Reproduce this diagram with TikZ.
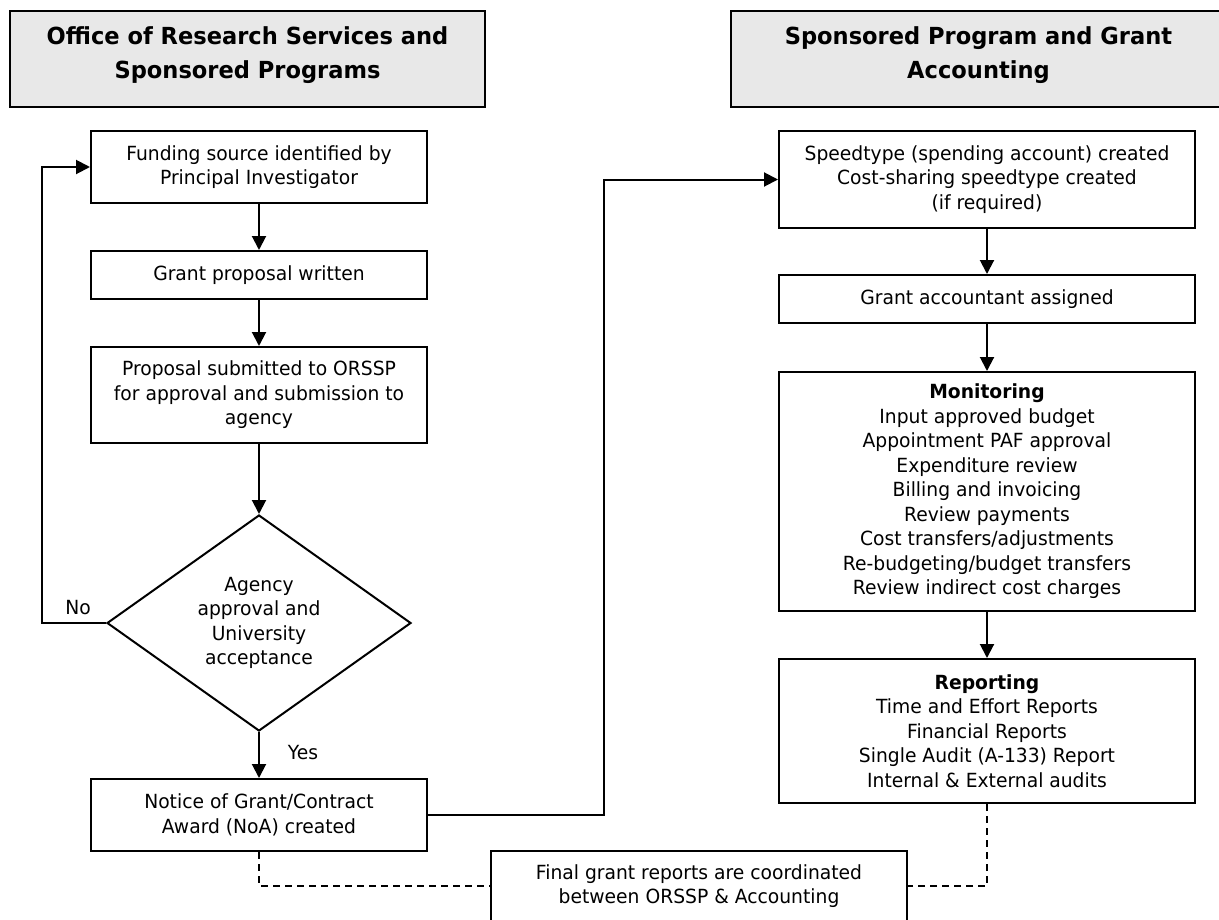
\documentclass[tikz,border=0pt]{standalone}
\usepackage{fontspec}
\setmainfont{DejaVu Sans}[FakeStretch=0.96]
\usetikzlibrary{arrows.meta,shapes.geometric}
\newcommand\myBody{\fontsize{19.5}{24.5}\selectfont}
\newcommand\myHead{\fontsize{23.5}{34}\selectfont\bfseries}
\definecolor{headgray}{HTML}{E8E8E8}
\begin{document}
\begin{tikzpicture}[x=1pt,y=-1pt,
  pbox/.style={draw, line width=2pt, align=center, inner sep=0pt, font=\myBody, fill=white},
  leftbox/.style={pbox, minimum width=336},
  rightbox/.style={pbox, minimum width=416},
  headbox/.style={draw, line width=2pt, fill=headgray, align=center, inner sep=0pt, font=\myHead},
  arr/.style={line width=2pt, -{Triangle[length=14pt,width=14pt]}},
  dsh/.style={line width=2pt, dash pattern=on 7pt off 5pt},
  lbl/.style={font=\myBody, inner sep=0pt}]
\useasboundingbox (0,0) rectangle (1219,919);
\clip (0,0) rectangle (1219,919);

% headers
\node[headbox, minimum width=475, minimum height=96] (h1) at (247.5,59)
  {Office of Research Services and\\Sponsored Programs\rule[-12pt]{0pt}{0pt}};
\node[headbox, minimum width=495, minimum height=96] (h2) at (978.5,59)
  {Sponsored Program and Grant\\Accounting\rule[-12pt]{0pt}{0pt}};

% left column
\node[leftbox, minimum height=72] (fund) at (259,167)
  {Funding source identified by\\Principal Investigator};
\node[leftbox, minimum height=48] (grant) at (259,275)
  {Grant proposal written};
\node[leftbox, minimum height=96] (prop) at (259,395)
  {Proposal submitted to ORSSP\\for approval and submission to\\agency};
\node[draw, line width=2pt, diamond, aspect=1.4, inner sep=0pt, align=center, font=\myBody,
      minimum width=304, minimum height=216] (dec) at (259,623)
  {Agency\\approval and\\University\\acceptance};
\node[leftbox, minimum height=72] (notice) at (259,815)
  {Notice of Grant/Contract\\Award (NoA) created};

% right column
\node[rightbox, minimum height=97] (speed) at (987,179.5)
  {Speedtype (spending account) created\\Cost-sharing speedtype created\\(if required)};
\node[rightbox, minimum height=48] (acct) at (987,299)
  {Grant accountant assigned};
\node[rightbox, minimum height=239] (mon) at (987,491.5)
  {\textbf{Monitoring}\\Input approved budget\\Appointment PAF approval\\Expenditure review\\Billing and invoicing\\Review payments\\Cost transfers/adjustments\\Re-budgeting/budget transfers\\Review indirect cost charges};
\node[rightbox, minimum height=144] (rep) at (987,731)
  {\textbf{Reporting}\\Time and Effort Reports\\Financial Reports\\Single Audit (A-133) Report\\Internal \& External audits};

% bottom box
\node[pbox, minimum width=416, minimum height=70] (final) at (699,886)
  {Final grant reports are coordinated\\between ORSSP \& Accounting};

% labels
\node[lbl] (no) at (78,608) {No};
\node[lbl] (yes) at (303,753) {Yes};

% connectors
\draw[arr] (fund) -- (grant);
\draw[arr] (grant) -- (prop);
\draw[arr] (prop) -- (dec);
\draw[arr] (dec) -- (notice);
\draw[arr] (dec.west) -- ++(-64,0) |- (fund.west);
\draw[arr] (notice.east) -- ++(176,0) |- (speed.west);
\draw[arr] (speed) -- (acct);
\draw[arr] (acct) -- (mon);
\draw[arr] (mon) -- (rep);
\draw[dsh] (notice.south) |- ([yshift=-36pt]final.north west);
\draw[dsh] (rep.south) |- ([yshift=-36pt]final.north east);
\end{tikzpicture}
\end{document}
